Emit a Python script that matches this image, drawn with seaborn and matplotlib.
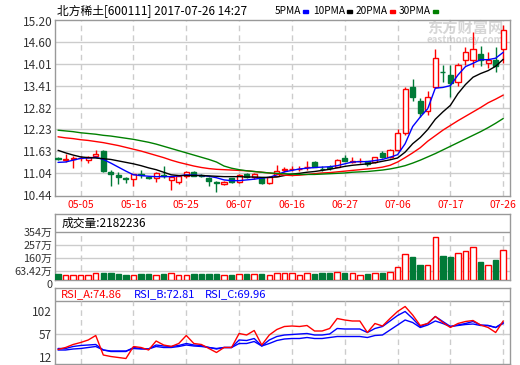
import numpy as np
import matplotlib
matplotlib.use("Agg")
import matplotlib.pyplot as plt
from matplotlib.patches import Rectangle
import seaborn as sns

# daily candles, 2017-05-02 .. 2017-07-26 (60 trading days)
opens = [11.43, 11.39, 11.42, 11.43, 11.38, 11.49, 11.63, 11.07, 10.98, 10.89,
         10.87, 10.99, 10.93, 10.88, 10.97, 10.84, 10.79, 10.96, 11.07, 10.97,
         10.90, 10.77, 10.73, 10.88, 10.77, 11.00, 10.93, 10.89, 10.75, 10.96,
         11.10, 11.13, 11.13, 11.18, 11.32, 11.15, 11.18, 11.19, 11.44, 11.34,
         11.35, 11.35, 11.32, 11.57, 11.46, 11.66, 12.11, 13.37, 13.00, 12.73,
         13.39, 13.80, 13.71, 13.51, 14.11, 14.13, 14.29, 14.03, 14.13, 14.42]
highs = [11.47, 11.56, 11.50, 11.50, 11.50, 11.67, 11.65, 11.10, 11.05, 10.93,
         11.00, 11.10, 10.96, 11.05, 11.23, 10.93, 10.98, 11.09, 11.09, 11.00,
         10.92, 10.82, 10.82, 10.90, 11.01, 11.02, 11.03, 10.91, 10.95, 11.26,
         11.20, 11.22, 11.22, 11.37, 11.35, 11.22, 11.26, 11.41, 11.52, 11.47,
         11.44, 11.36, 11.48, 11.64, 11.68, 12.24, 13.37, 13.60, 13.08, 13.28,
         14.42, 13.98, 13.98, 14.05, 14.49, 14.90, 14.51, 14.34, 14.47, 15.09]
lows = [11.38, 11.32, 11.17, 11.37, 11.29, 11.47, 11.05, 10.66, 10.73, 10.76,
        10.66, 10.90, 10.86, 10.78, 10.90, 10.57, 10.73, 10.90, 10.94, 10.92,
        10.68, 10.52, 10.70, 10.75, 10.76, 10.90, 10.87, 10.74, 10.74, 10.95,
        11.05, 11.08, 11.08, 11.12, 11.18, 11.08, 11.10, 11.18, 11.36, 11.29,
        11.31, 11.22, 11.31, 11.44, 11.45, 11.64, 12.08, 13.00, 12.57, 12.62,
        13.35, 13.52, 13.10, 13.40, 13.98, 13.92, 13.97, 13.90, 13.80, 14.03]
closes = [11.42, 11.41, 11.44, 11.45, 11.47, 11.56, 11.08, 11.00, 10.91, 10.87,
          10.99, 10.97, 10.90, 11.03, 10.94, 10.91, 10.96, 11.05, 10.96, 10.95,
          10.81, 10.75, 10.79, 10.79, 10.98, 10.91, 11.00, 10.75, 10.91, 11.08,
          11.14, 11.14, 11.14, 11.20, 11.19, 11.14, 11.17, 11.39, 11.37, 11.35,
          11.36, 11.28, 11.46, 11.46, 11.66, 12.11, 13.33, 13.11, 12.68, 13.10,
          14.17, 13.78, 13.50, 13.99, 14.34, 14.42, 14.13, 14.13, 13.96, 14.95]

ma5 = [11.32, 11.33, 11.38, 11.43, 11.44, 11.46, 11.40, 11.30, 11.19, 11.08,
       10.98, 10.96, 10.94, 10.93, 10.93, 10.93, 10.95, 10.98, 10.97, 10.96,
       10.94, 10.90, 10.84, 10.82, 10.82, 10.84, 10.86, 10.89, 10.91, 10.98,
       11.06, 11.10, 11.14, 11.16, 11.18, 11.19, 11.20, 11.23, 11.28, 11.33,
       11.34, 11.34, 11.37, 11.40, 11.46, 11.53, 11.83, 12.30, 12.56, 12.79,
       13.35, 13.37, 13.42, 13.71, 13.94, 14.03, 14.13, 14.13, 14.17, 14.33]
ma10 = [11.65, 11.58, 11.52, 11.47, 11.45, 11.44, 11.42, 11.40, 11.36, 11.32,
        11.28, 11.23, 11.17, 11.12, 11.05, 10.98, 10.96, 10.96, 10.96, 10.96,
        10.95, 10.94, 10.93, 10.93, 10.93, 10.92, 10.92, 10.91, 10.91, 10.92,
        10.96, 11.00, 11.02, 11.05, 11.07, 11.10, 11.13, 11.17, 11.21, 11.24,
        11.26, 11.28, 11.31, 11.35, 11.39, 11.44, 11.60, 11.83, 12.00, 12.22,
        12.50, 12.70, 12.88, 13.20, 13.45, 13.65, 13.75, 13.83, 13.95, 14.14]
ma20 = [12.02, 11.99, 11.97, 11.94, 11.92, 11.89, 11.86, 11.82, 11.78, 11.73,
        11.68, 11.63, 11.57, 11.51, 11.45, 11.38, 11.32, 11.27, 11.22, 11.18,
        11.15, 11.13, 11.12, 11.11, 11.10, 11.09, 11.07, 11.05, 11.03, 11.00,
        10.97, 10.96, 10.97, 10.99, 11.01, 11.03, 11.04, 11.06, 11.08, 11.10,
        11.12, 11.14, 11.16, 11.19, 11.24, 11.33, 11.45, 11.58, 11.72, 11.90,
        12.05, 12.20, 12.33, 12.46, 12.58, 12.70, 12.82, 12.95, 13.05, 13.16]
ma30 = [12.20, 12.18, 12.16, 12.13, 12.11, 12.09, 12.06, 12.04, 12.01, 11.98,
        11.95, 11.91, 11.87, 11.82, 11.76, 11.70, 11.64, 11.58, 11.52, 11.46,
        11.40, 11.33, 11.22, 11.16, 11.12, 11.09, 11.07, 11.05, 11.03, 11.02,
        11.01, 11.00, 10.99, 10.99, 10.99, 11.00, 11.01, 11.02, 11.03, 11.05,
        11.06, 11.07, 11.09, 11.11, 11.14, 11.18, 11.23, 11.30, 11.38, 11.47,
        11.56, 11.66, 11.76, 11.86, 11.96, 12.06, 12.16, 12.27, 12.39, 12.52]

# volume in 万 shares
volume = [44, 39, 39, 39, 39, 49, 54, 54, 44, 37,
          39, 44, 44, 39, 44, 49, 39, 39, 44, 44,
          44, 44, 34, 37, 44, 44, 44, 44, 39, 49,
          49, 49, 39, 49, 44, 49, 49, 57, 49, 49,
          39, 44, 49, 54, 57, 94, 189, 167, 111, 108,
          315, 177, 167, 197, 216, 241, 133, 108, 147, 218]

rsi_a = [26, 30, 36, 40, 45, 54, 15, 12, 10, 8,
         32, 30, 25, 43, 35, 32, 38, 54, 38, 36,
         28, 20, 30, 30, 58, 55, 64, 35, 55, 66,
         72, 73, 72, 74, 63, 63, 68, 88, 85, 83,
         83, 60, 78, 73, 88, 102, 112, 95, 74, 78,
         92, 80, 70, 78, 82, 84, 75, 70, 60, 83]
rsi_b = [28, 28, 32, 34, 35, 36, 25, 22, 22, 22,
         30, 28, 27, 35, 33, 32, 34, 38, 35, 34,
         30, 27, 30, 30, 45, 44, 48, 33, 45, 52,
         55, 56, 57, 58, 55, 55, 57, 68, 67, 67,
         67, 60, 68, 72, 83, 94, 102, 88, 72, 78,
         92, 82, 72, 75, 78, 82, 75, 74, 70, 80]
rsi_c = [25, 25, 27, 28, 30, 32, 25, 23, 23, 23,
         28, 27, 27, 32, 30, 30, 32, 35, 33, 32,
         30, 28, 30, 30, 38, 38, 42, 33, 38, 44,
         47, 48, 48, 50, 48, 48, 50, 52, 52, 52,
         52, 50, 54, 55, 65, 75, 85, 80, 70, 75,
         83, 78, 72, 74, 76, 77, 74, 74, 70, 78]

date_pos = [3, 10, 17, 24, 31, 38, 45, 52, 59]
date_labels = ["05-05", "05-16", "05-25", "06-07", "06-16", "06-27", "07-06", "07-17", "07-26"]
price_ticks = [10.44, 11.04, 11.63, 12.23, 12.82, 13.41, 14.01, 14.60, 15.20]
vol_ticks = [0, 63.42, 160, 257, 354]
vol_labels = ["0", "63.42万", "160万", "257万", "354万"]
rsi_ticks = [12, 57, 102]

sns.set_style("white")
plt.rcParams['font.family'] = ['Noto Sans CJK SC', 'DejaVu Sans']

W, H = 520, 365
fig = plt.figure(figsize=(W / 100, H / 100), dpi=100)


def box(top, bottom):
    return [55 / W, 1 - bottom / H, 455 / W, (bottom - top) / H]


RED = "#ff0000"
GREEN = "#007a37"
GRID = "#cccccc"
EDGE = "#999999"
TXT = "#333333"

x = np.arange(len(closes))
up = np.array(closes) >= np.array(opens)
face = ["white" if u else GREEN for u in up]
edge = [RED if u else GREEN for u in up]
xlim = (-0.4, 59.9)


def frame(ax, size=8.5):
    for s in ax.spines.values():
        s.set_color(EDGE)
        s.set_linewidth(1)
    ax.tick_params(length=0, labelsize=size, labelcolor=TXT, pad=2)
    ax.set_xlim(*xlim)


# ---- price panel
ax = fig.add_axes(box(20, 196))
frame(ax)
ax.set_ylim(10.40, 15.215)
for t in price_ticks[1:-1]:
    ax.axhline(t, color=GRID, lw=1, zorder=0)
ax.vlines(date_pos, 10.40, 15.215, colors=GRID, lw=1, linestyles=(0, (4, 3)), zorder=0)
ax.vlines(x, lows, highs, colors=edge, lw=1, zorder=2)
body_h = np.maximum(np.abs(np.array(closes) - np.array(opens)), 0.004)
ax.bar(x, body_h, bottom=np.minimum(opens, closes), width=0.68,
       color=face, edgecolor=edge, linewidth=1, zorder=3)
for vals, col in [(ma5, "blue"), (ma10, "black"), (ma20, "red"), (ma30, "green")]:
    sns.lineplot(x=x, y=vals, ax=ax, color=col, lw=1, zorder=4)
ax.set_yticks(price_ticks)
ax.set_yticklabels([f"{t:.2f}" for t in price_ticks])
ax.set_xticks(date_pos)
ax.set_xticklabels(date_labels, color=RED, fontsize=7.5)
ax.tick_params(axis="x", pad=3, labelcolor=RED)
ax.text(0.985, 0.955, "东方财富网", transform=ax.transAxes, ha="right", va="center",
        fontsize=11, fontweight="bold", color="#bbbbbb", alpha=0.6, zorder=1)
ax.text(0.985, 0.885, "eastmoney.com", transform=ax.transAxes, ha="right", va="center",
        fontsize=7, fontweight="bold", color="#bbbbbb", alpha=0.6, zorder=1)

# ---- volume panel
vtop = 354 + 18 * 354 / 48
av = fig.add_axes(box(214, 280))
frame(av, 7.8)
av.set_ylim(0, vtop)
for t in vol_ticks[1:4]:
    av.axhline(t, color=GRID, lw=1, zorder=0)
av.axhline(354, color=EDGE, lw=1, zorder=0)
av.vlines(date_pos, 0, 354, colors=GRID, lw=1, linestyles=(0, (4, 3)), zorder=0)
av.bar(x, volume, width=0.72, color=face, edgecolor=edge, linewidth=1, zorder=3)
av.set_yticks(vol_ticks)
av.set_yticklabels(vol_labels)
av.get_yticklabels()[0].set_va("top")
av.get_yticklabels()[0].set_y(-6)
av.set_xticks([])
av.text(0.5, 354 + 9 * 354 / 48, "成交量:2182236", ha="left", va="center",
        fontsize=8.5, color="black")

# ---- RSI panel
ar = fig.add_axes(box(288, 364))
frame(ar)
ar.set_ylim(-3, 149)
ar.axhline(57, color=GRID, lw=1, zorder=0)
ar.axhline(123, color=EDGE, lw=1, zorder=0)
ar.vlines(date_pos, -3, 123, colors=GRID, lw=1, linestyles=(0, (4, 3)), zorder=0)
for vals, col in [(rsi_c, "blue"), (rsi_b, "blue"), (rsi_a, "red")]:
    sns.lineplot(x=x, y=vals, ax=ar, color=col, lw=1, zorder=3)
ar.set_yticks(rsi_ticks)
ar.set_xticks([])
for xpos, label, col in [(0.4, "RSI_A:74.86", RED), (10.1, "RSI_B:72.81", "blue"),
                         (19.5, "RSI_C:69.96", "blue")]:
    ar.text(xpos, 136, label, ha="left", va="center", fontsize=8, color=col)

# ---- header and MA legend
fig.text(57 / W, 1 - 11 / H, "北方稀土[600111] 2017-07-26 14:27", ha="left", va="center",
         fontsize=8.5, color="black")
renderer = fig.canvas.get_renderer()
for px, label, col in [(275, "5PMA", "blue"), (313, "10PMA", "black"),
                       (356, "20PMA", "red"), (399, "30PMA", "green")]:
    t = fig.text(px / W, 1 - 11 / H, label, ha="left", va="center", fontsize=7.3, color="black")
    right = t.get_window_extent(renderer).x1
    fig.patches.append(Rectangle(((right + 2) / W, 1 - 12.5 / H), 5 / W, 3 / H,
                                 transform=fig.transFigure, color=col))

fig.savefig("out.png", dpi=100)
